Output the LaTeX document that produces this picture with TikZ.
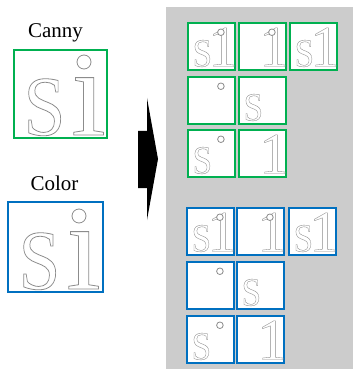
\documentclass[tikz,border=0pt]{standalone}
\usepackage{fontspec}
\setmainfont{Liberation Serif}
\newfontfamily\tms{Liberation Serif}
\definecolor{cgreen}{RGB}{0,176,80}
\definecolor{cblue}{RGB}{0,112,192}
\definecolor{panelgray}{RGB}{204,204,204}
\definecolor{olg}{RGB}{140,140,140}
\newcommand{\olt}[1]{\leavevmode\color{olg}\special{pdf:literal direct 1 Tr 0.8 w}#1\special{pdf:literal direct 0 Tr}}
\tikzset{
  tilebox/.style={draw=#1, line width=2pt, fill=white, inner sep=0pt, outer sep=0pt, anchor=north west},
  glyphS/.style={inner sep=0pt, anchor=base, xscale=0.88, font=\tms\fontsize{85}{90}\selectfont},
  glyphI/.style={inner sep=0pt, anchor=base, font=\tms\fontsize{125}{130}\selectfont},
  glyphD/.style={draw=olg, line width=0.8pt, fill=white},
  label/.style={inner sep=0pt, anchor=base, font=\tms\fontsize{21}{24}\selectfont}
}
% #1 name, #2 x, #3 y, #4 scale, #5 S, #6 I, #7 dot
\newcommand{\glyphs}[7]{%
  \begin{scope}[shift={(#2,#3)}, scale=#4, transform shape]
    \ifnum#5=1 \node[glyphS] (#1S) at (30.5,85) {\olt{S}};\fi
    \ifnum#6=1 \node[glyphI] (#1I) at (74.5,85) {\olt{\i}};\fi
    \ifnum#7=1 \draw[glyphD] (70,12) circle[radius=7];\fi
  \end{scope}}
\begin{document}
\begin{tikzpicture}[x=1pt, y=-1pt]
  \useasboundingbox (0,0) rectangle (353,371);
  % right panel
  \fill[panelgray] (166,7) rectangle (353,369);
  % labels
  \node[label] (canny) at (55.5,38) {Canny};
  \node[label] (color) at (54.5,190) {Color};
  % big tiles
  \node[tilebox=cgreen, minimum width=93pt, minimum height=88pt] (gbig) at (14,50) {};
  \glyphs{gb}{14}{50}{1}{1}{1}{1}
  \node[tilebox=cblue, minimum width=95pt, minimum height=90pt] (bbig) at (8,202) {};
  \glyphs{bb}{9}{204}{1}{1}{1}{1}
  % arrow
  \fill[black] (138,131) -- (147,131) -- (147,98) -- (158,159) -- (147,220) -- (147,188) -- (138,188) -- cycle;
  % green tiles
  \foreach \nm/\x/\y/\s/\i/\d in {g11/188/23/1/1/1, g12/239/23/0/1/1, g13/290/23/1/1/0,
      g21/188/77/0/0/1, g22/239/77/1/0/0, g31/188/130/1/0/1, g32/239/130/0/1/0}{
    \node[tilebox=cgreen, minimum width=47pt, minimum height=47pt] (\nm) at (\x,\y) {};
    \glyphs{\nm}{\x}{\y+3.6}{0.47}{\s}{\i}{\d}
  }
  % blue tiles
  \foreach \nm/\x/\y/\s/\i/\d in {b11/187/208/1/1/1, b12/237/208/0/1/1, b13/289/208/1/1/0,
      b21/187/262/0/0/1, b22/237/262/1/0/0, b31/187/316/1/0/1, b32/237/316/0/1/0}{
    \node[tilebox=cblue, minimum width=47pt, minimum height=47pt] (\nm) at (\x,\y) {};
    \glyphs{\nm}{\x}{\y+3.6}{0.47}{\s}{\i}{\d}
  }
\end{tikzpicture}
\end{document}
